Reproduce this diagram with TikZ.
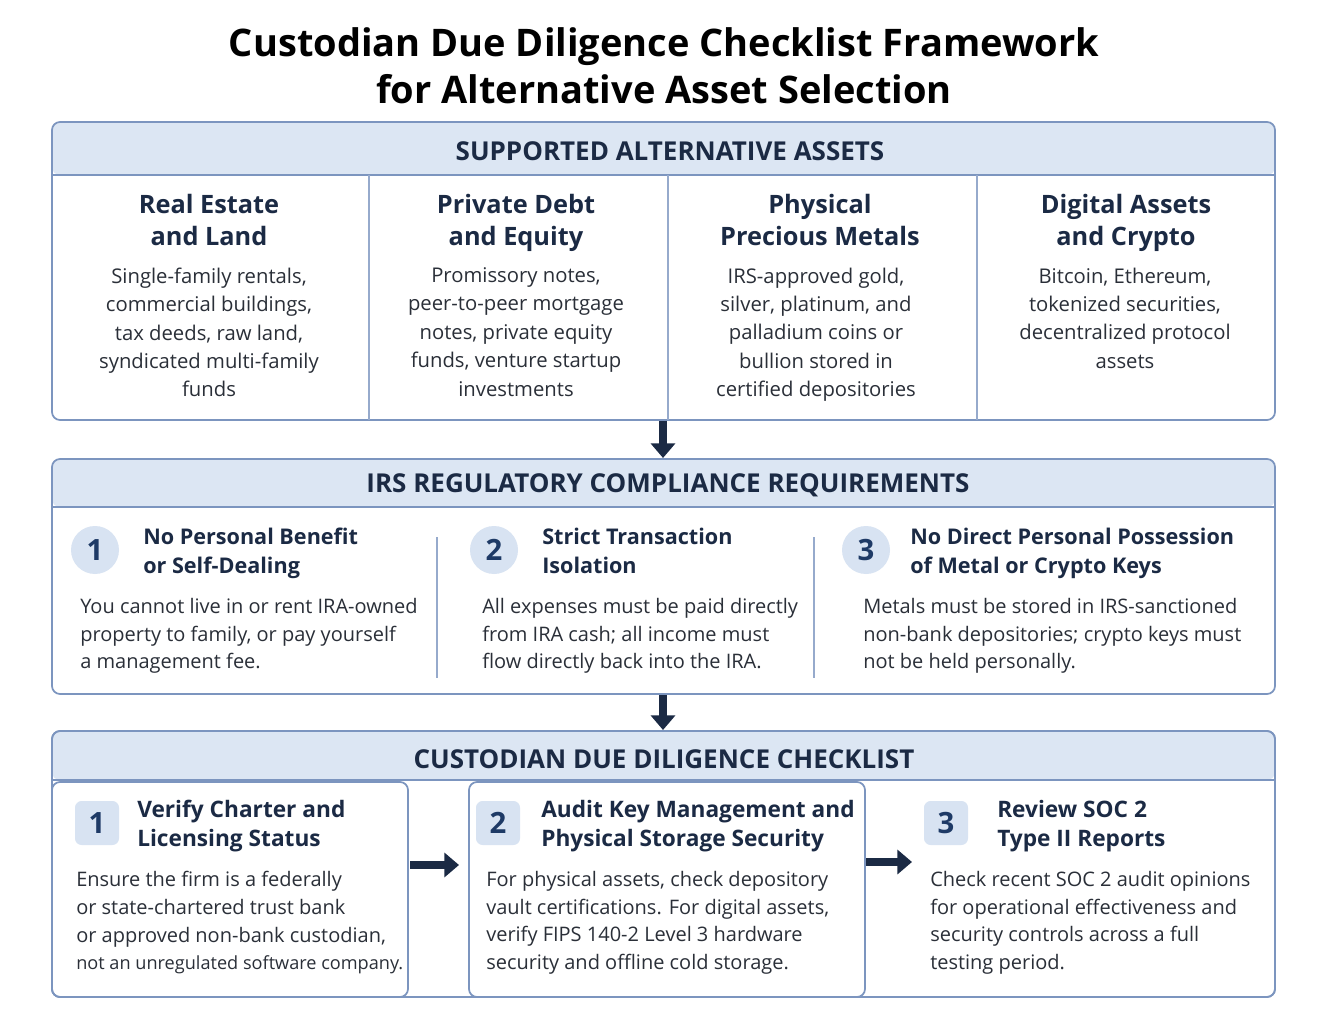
\documentclass[tikz,border=0pt]{standalone}
\usepackage{fontspec}
\setmainfont{Open Sans}
\usetikzlibrary{arrows.meta}
\definecolor{navy}{HTML}{1B2A44}
\definecolor{bnum}{HTML}{1E3A66}
\definecolor{hdr}{HTML}{DCE6F3}
\definecolor{bord}{HTML}{7C95BF}
\definecolor{badge}{HTML}{D8E3F2}
\definecolor{body}{HTML}{2A2F38}
\begin{document}
\begin{tikzpicture}[x=0.75pt,y=-0.75pt,
  panel/.style={draw=bord,line width=1.3pt,rounded corners=6pt},
  hdrtxt/.style={font=\fontsize{19.5}{22}\selectfont\bfseries,text=navy},
  ctitle/.style={font=\fontsize{19}{23.5}\selectfont\bfseries,text=navy,align=center,anchor=north},
  cdesc/.style={font=\fontsize{15.2}{21.3}\selectfont,text=body,align=center,anchor=north},
  ititle/.style={font=\fontsize{16.2}{21.7}\selectfont\bfseries,text=navy,align=left,anchor=north west,inner sep=0pt},
  idesc/.style={font=\fontsize{15}{20.8}\selectfont,text=body,align=left,anchor=north west,inner sep=0pt},
  num/.style={font=\fontsize{22}{22}\selectfont\bfseries,text=bnum,fill=badge},
  bigarrow/.style={-{Triangle[length=11pt,width=18pt]},line width=5.5pt,draw=navy},
  div/.style={draw=bord!80,line width=1pt}]
\useasboundingbox (0,0) rectangle (1328,1023);
\fill[white] (0,0) rectangle (1328,1023);
\node[font=\fontsize{28.5}{35.5}\selectfont\bfseries,text=black,align=center] (title) at (664,66) {Custodian Due Diligence Checklist Framework\\for Alternative Asset Selection};

% Panel 1
\fill[hdr,rounded corners=6pt] (52,122) rectangle (1275,175);
\draw[bord,line width=1.3pt] (52,175) -- (1275,175);
\draw[panel] (52,122) rectangle (1275,420);
\node[hdrtxt] (h1) at (670,151) {SUPPORTED ALTERNATIVE ASSETS};
\foreach \x in {369,668,977} \draw[div] (\x,175) -- (\x,420);
\node[ctitle] (t1) at (209,190) {Real Estate\\and Land};
\node[ctitle] (t2) at (516,190) {Private Debt\\and Equity};
\node[ctitle] (t3) at (820,190) {Physical\\Precious Metals};
\node[ctitle] (t4) at (1126,190) {Digital Assets\\and Crypto};
\node[cdesc] (d1) at (209,263) {Single-family rentals,\\commercial buildings,\\tax deeds, raw land,\\syndicated multi-family\\funds};
\node[cdesc] (d2) at (516,263) {Promissory notes,\\peer-to-peer mortgage\\notes, private equity\\funds, venture startup\\investments};
\node[cdesc] (d3) at (816,263) {IRS-approved gold,\\silver, platinum, and\\palladium coins or\\bullion stored in\\certified depositories};
\node[cdesc] (d4) at (1125,263) {Bitcoin, Ethereum,\\tokenized securities,\\decentralized protocol\\assets};

% Panel 2
\fill[hdr,rounded corners=6pt] (52,459) rectangle (1275,507);
\draw[bord,line width=1.3pt] (52,507) -- (1275,507);
\draw[panel] (52,459) rectangle (1275,694);
\node[hdrtxt] (h2) at (668,485) {IRS REGULATORY COMPLIANCE REQUIREMENTS};
\draw[div] (437,537) -- (437,678);
\draw[div] (814,537) -- (814,678);
\node[num,circle,minimum size=36pt,inner sep=0pt] (c1) at (95,550) {1};
\node[num,circle,minimum size=36pt,inner sep=0pt] (c2) at (494,550) {2};
\node[num,circle,minimum size=36pt,inner sep=0pt] (c3) at (866,550) {3};
\node[ititle] (r1) at (143,528) {No Personal Benefit\\or Self-Dealing};
\node[ititle] (r2) at (542,528) {Strict Transaction\\Isolation};
\node[ititle] (r3) at (910,528) {No Direct Personal Possession\\of Metal or Crypto Keys};
\node[idesc] (e1) at (80,598) {You cannot live in or rent IRA-owned\\property to family, or pay yourself\\a management fee.};
\node[idesc] (e2) at (482,598) {All expenses must be paid directly\\from IRA cash; all income must\\flow directly back into the IRA.};
\node[idesc] (e3) at (863,598) {Metals must be stored in IRS-sanctioned\\non-bank depositories; crypto keys must\\not be held personally.};

% Panel 3
\fill[hdr,rounded corners=6pt] (52,731) rectangle (1275,780);
\draw[bord,line width=1.3pt] (52,780) -- (1275,780);
\draw[panel] (52,731) rectangle (1275,997);
\node[hdrtxt] (h3) at (664,759) {CUSTODIAN DUE DILIGENCE CHECKLIST};
\draw[panel,fill=white] (52,782) rectangle (408,997);
\draw[panel,fill=white] (469,782) rectangle (865,997);
\draw[panel] (52,731) rectangle (1275,997);
\node[num,rounded corners=5pt,minimum size=33pt,inner sep=0pt] (s1) at (97,823) {1};
\node[num,rounded corners=5pt,minimum size=33pt,inner sep=0pt] (s2) at (498,823) {2};
\node[num,rounded corners=5pt,minimum size=33pt,inner sep=0pt] (s3) at (946,823) {3};
\node[ititle,font=\fontsize{17}{22}\selectfont\bfseries] (k1) at (137,800) {Verify Charter and\\Licensing Status};
\node[ititle,font=\fontsize{17}{22}\selectfont\bfseries] (k2) at (541,800) {Audit Key Management and\\Physical Storage Security};
\node[ititle,font=\fontsize{17}{22}\selectfont\bfseries] (k3) at (997,800) {Review SOC 2\\Type II Reports};
\node[idesc] (f1) at (76,871) {Ensure the firm is a federally\\or state-chartered trust bank\\or approved non-bank custodian,\\{\fontsize{13.6}{20.8}\selectfont not an unregulated software company.}};
\node[idesc] (f2) at (486,871) {For physical assets, check depository\\vault certifications. For digital assets,\\verify FIPS 140-2 Level 3 hardware\\security and offline cold storage.};
\node[idesc] (f3) at (930,871) {Check recent SOC 2 audit opinions\\for operational effectiveness and\\security controls across a full\\testing period.};

% arrows
\coordinate (a1s) at (663,421); \coordinate (a1e) at (663,458);
\coordinate (a2s) at (663,695); \coordinate (a2e) at (663,730);
\coordinate (a3s) at (410,865); \coordinate (a3e) at (459,865);
\coordinate (a4s) at (866,862); \coordinate (a4e) at (912,862);
\draw[bigarrow] (a1s) -- (a1e);
\draw[bigarrow] (a2s) -- (a2e);
\draw[bigarrow] (a3s) -- (a3e);
\draw[bigarrow] (a4s) -- (a4e);
\end{tikzpicture}
\end{document}
